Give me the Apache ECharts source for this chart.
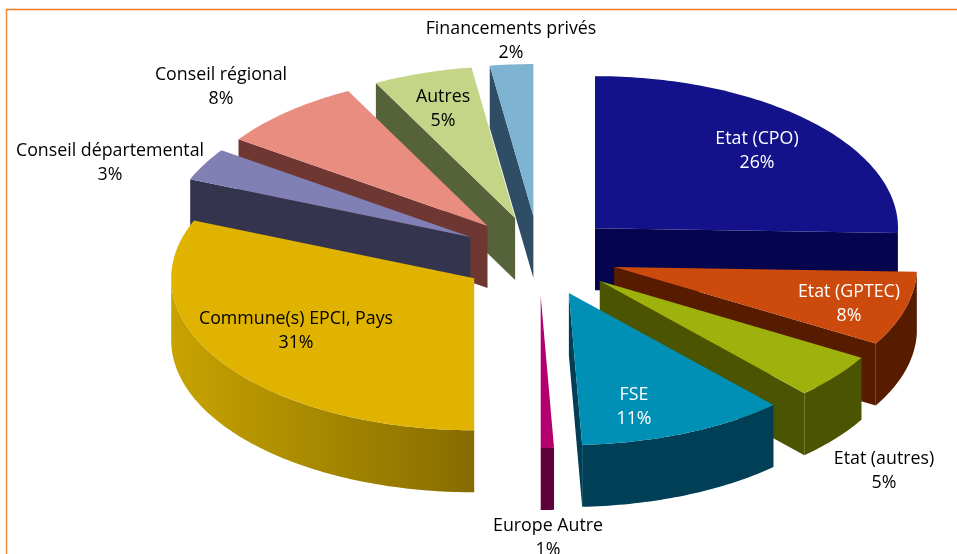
<!DOCTYPE html>
<html><head><meta charset="utf-8">
<style>html,body{margin:0;padding:0;background:#fff}#c{width:957px;height:554px}</style>
<script src="https://cdn.jsdelivr.net/npm/echarts@6/dist/echarts.min.js"></script>
</head><body><div id="c"></div>
<script>
const categories = ['Etat (CPO)','Etat (GPTEC)','Etat (autres)','FSE','Europe Autre','Commune(s) EPCI, Pays','Conseil départemental','Conseil régional','Autres','Financements privés'];
const values = [25.5,7.9,4.8,11.1,0.7,31.2,3.45,7.75,5.3,2.3];
const topColors = ['#13128a','#cc4a0c','#9eb20e','#0090b5','#b4006f','#e0b300','#8080b4','#e98d80','#c5d588','#7fb3d2'];
const wallColors = ['#04044f','#571b00','#4b5400','#003f56','#5e0039','#866c00','#35344f','#6f3731','#55623a','#2f4e66'];
const wallLight = [null,null,null,null,null,'#c8a300',null,null,null,null];
const labelColors = ['#fff','#fff','#000','#fff','#000','#000','#000','#000','#000','#000'];
const labelCenters = [[757,151],[849,304],[884,471],[634,407],[548,538],[296,331],[110,163],[221,87],[443,109],[511,41]];
const paintOrder = [9,8,7,6,5,0,1,2,3,4];

const G = {cx:539, cy:256, rx:303, ry:152, depth:62, ex:78, ey:40};
const total = values.reduce((a,b)=>a+b,0);
const starts = []; { let s=0; values.forEach(v=>{starts.push(s); s+=v/total*360;}); }

function rad(d){return d*Math.PI/180;}
function arc(ax,ay,a0,a1,dy){
  const pts=[]; const n=Math.max(2,Math.ceil(Math.abs(a1-a0)));
  for(let i=0;i<=n;i++){const t=rad(a0+(a1-a0)*i/n);pts.push([ax+G.rx*Math.sin(t),ay-G.ry*Math.cos(t)+dy]);}
  return pts;
}
function renderItem(params,api){
  const i=api.value(0);
  const a0=starts[i], a1=a0+values[i]/total*360, mid=(a0+a1)/2;
  const ax=G.cx+G.ex*Math.sin(rad(mid)), ay=G.cy-G.ey*Math.cos(rad(mid));
  const kids=[];
  const wall=wallColors[i];
  const cut=(ang)=>{
    const e=arc(ax,ay,ang,ang,0)[0];
    kids.push({type:'polygon',shape:{points:[[ax,ay],e,[e[0],e[1]+G.depth],[ax,ay+G.depth]]},style:{fill:wall}});
  };
  if(Math.sin(rad(a1))>0.001) cut(a1);
  if(Math.sin(rad(a0))<-0.001) cut(a0);
  const w0=Math.max(a0,90), w1=Math.min(a1,270);
  if(w1>w0){
    const up=arc(ax,ay,w0,w1,0), lo=arc(ax,ay,w0,w1,G.depth).reverse();
    const fill=wallLight[i]?{type:'linear',x:0,y:0,x2:1,y2:0,colorStops:[{offset:0,color:wallLight[i]},{offset:1,color:wall}]}:wall;
    kids.push({type:'polygon',shape:{points:up.concat(lo)},style:{fill}});
  }
  kids.push({type:'polygon',shape:{points:[[ax,ay]].concat(arc(ax,ay,a0,a1,0))},style:{fill:topColors[i]}});
  const [lx,ly]=labelCenters[i];
  kids.push({type:'text',z2:50,style:{text:categories[i]+'\n'+Math.round(values[i])+'%',x:lx,y:ly,align:'center',verticalAlign:'middle',
    font:'17.8px "Open Sans"',lineHeight:24.5,fill:labelColors[i]}});
  return {type:'group',children:kids};
}
const chart=echarts.init(document.getElementById('c'),null,{renderer:'canvas'});
chart.setOption({
  animation:false,
  backgroundColor:'#fff',
  graphic:[
    {type:'line',z:-1,shape:{x1:6.5,y1:9.5,x2:957,y2:9.5},style:{stroke:'#f07a20',lineWidth:1.5}},
    {type:'line',z:-1,shape:{x1:6.5,y1:9,x2:6.5,y2:554},style:{stroke:'#f08a3c',lineWidth:1.5}}
  ],
  series:[{type:'custom',coordinateSystem:'none',renderItem,silent:true,clip:false,
    data:paintOrder.map(i=>[i,values[i]])}]
});
</script></body></html>
